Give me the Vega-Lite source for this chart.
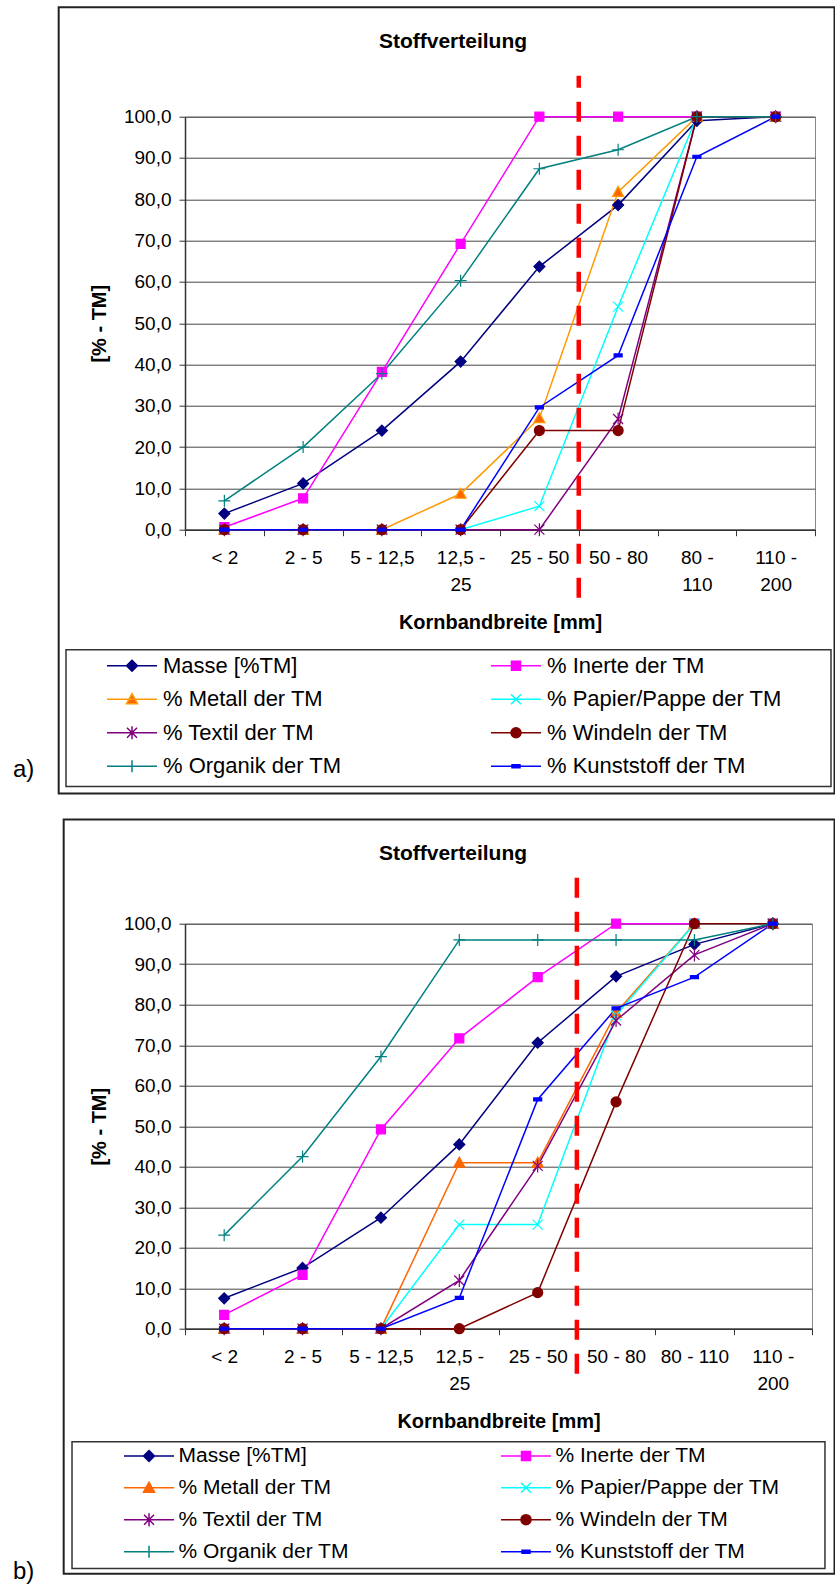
{
  "$schema": "https://vega.github.io/schema/vega-lite/v6.json",
  "background": "white",
  "padding": {"left": 12, "top": 5.7, "right": 0, "bottom": 0},
  "config": {
    "font": "Liberation Sans",
    "view": {"stroke": "#888", "strokeWidth": 1},
    "axis": {"labelFont": "Liberation Sans", "titleFont": "Liberation Sans", "labelColor": "black", "titleColor": "black", "labelFontSize": 19, "titleFontSize": 20, "titleFontWeight": "bold", "domainColor": "#333", "domainWidth": 1.5, "tickColor": "#333", "tickSize": 6, "gridColor": "#444", "gridWidth": 1},
    "axisX": {"grid": false},
    "title": {"font": "Liberation Sans", "fontSize": 21, "fontWeight": "bold", "color": "black"}
  },
  "datasets": {
    "a": [
      {"Kornband": "< 2", "Stoff": "Masse [%TM]", "Anteil": 3.9},
      {"Kornband": "2 - 5", "Stoff": "Masse [%TM]", "Anteil": 11.2},
      {"Kornband": "5 - 12,5", "Stoff": "Masse [%TM]", "Anteil": 24.0},
      {"Kornband": "12,5 - 25", "Stoff": "Masse [%TM]", "Anteil": 40.7},
      {"Kornband": "25 - 50", "Stoff": "Masse [%TM]", "Anteil": 63.7},
      {"Kornband": "50 - 80", "Stoff": "Masse [%TM]", "Anteil": 78.6},
      {"Kornband": "80 - 110", "Stoff": "Masse [%TM]", "Anteil": 99.0},
      {"Kornband": "110 - 200", "Stoff": "Masse [%TM]", "Anteil": 100},
      {"Kornband": "< 2", "Stoff": "% Inerte der TM", "Anteil": 0.6},
      {"Kornband": "2 - 5", "Stoff": "% Inerte der TM", "Anteil": 7.6},
      {"Kornband": "5 - 12,5", "Stoff": "% Inerte der TM", "Anteil": 38.2},
      {"Kornband": "12,5 - 25", "Stoff": "% Inerte der TM", "Anteil": 69.2},
      {"Kornband": "25 - 50", "Stoff": "% Inerte der TM", "Anteil": 100},
      {"Kornband": "50 - 80", "Stoff": "% Inerte der TM", "Anteil": 100},
      {"Kornband": "80 - 110", "Stoff": "% Inerte der TM", "Anteil": 100},
      {"Kornband": "110 - 200", "Stoff": "% Inerte der TM", "Anteil": 100},
      {"Kornband": "< 2", "Stoff": "% Metall der TM", "Anteil": 0},
      {"Kornband": "2 - 5", "Stoff": "% Metall der TM", "Anteil": 0},
      {"Kornband": "5 - 12,5", "Stoff": "% Metall der TM", "Anteil": 0},
      {"Kornband": "12,5 - 25", "Stoff": "% Metall der TM", "Anteil": 8.7},
      {"Kornband": "25 - 50", "Stoff": "% Metall der TM", "Anteil": 27.0},
      {"Kornband": "50 - 80", "Stoff": "% Metall der TM", "Anteil": 81.8},
      {"Kornband": "80 - 110", "Stoff": "% Metall der TM", "Anteil": 100},
      {"Kornband": "110 - 200", "Stoff": "% Metall der TM", "Anteil": 100},
      {"Kornband": "< 2", "Stoff": "% Papier/Pappe der TM", "Anteil": 0},
      {"Kornband": "2 - 5", "Stoff": "% Papier/Pappe der TM", "Anteil": 0},
      {"Kornband": "5 - 12,5", "Stoff": "% Papier/Pappe der TM", "Anteil": 0},
      {"Kornband": "12,5 - 25", "Stoff": "% Papier/Pappe der TM", "Anteil": 0},
      {"Kornband": "25 - 50", "Stoff": "% Papier/Pappe der TM", "Anteil": 5.7},
      {"Kornband": "50 - 80", "Stoff": "% Papier/Pappe der TM", "Anteil": 54.0},
      {"Kornband": "80 - 110", "Stoff": "% Papier/Pappe der TM", "Anteil": 100},
      {"Kornband": "110 - 200", "Stoff": "% Papier/Pappe der TM", "Anteil": 100},
      {"Kornband": "< 2", "Stoff": "% Textil der TM", "Anteil": 0},
      {"Kornband": "2 - 5", "Stoff": "% Textil der TM", "Anteil": 0},
      {"Kornband": "5 - 12,5", "Stoff": "% Textil der TM", "Anteil": 0},
      {"Kornband": "12,5 - 25", "Stoff": "% Textil der TM", "Anteil": 0},
      {"Kornband": "25 - 50", "Stoff": "% Textil der TM", "Anteil": 0},
      {"Kornband": "50 - 80", "Stoff": "% Textil der TM", "Anteil": 26.8},
      {"Kornband": "80 - 110", "Stoff": "% Textil der TM", "Anteil": 100},
      {"Kornband": "110 - 200", "Stoff": "% Textil der TM", "Anteil": 100},
      {"Kornband": "< 2", "Stoff": "% Windeln der TM", "Anteil": 0},
      {"Kornband": "2 - 5", "Stoff": "% Windeln der TM", "Anteil": 0},
      {"Kornband": "5 - 12,5", "Stoff": "% Windeln der TM", "Anteil": 0},
      {"Kornband": "12,5 - 25", "Stoff": "% Windeln der TM", "Anteil": 0},
      {"Kornband": "25 - 50", "Stoff": "% Windeln der TM", "Anteil": 24.0},
      {"Kornband": "50 - 80", "Stoff": "% Windeln der TM", "Anteil": 24.0},
      {"Kornband": "80 - 110", "Stoff": "% Windeln der TM", "Anteil": 100},
      {"Kornband": "110 - 200", "Stoff": "% Windeln der TM", "Anteil": 100},
      {"Kornband": "< 2", "Stoff": "% Organik der TM", "Anteil": 7.0},
      {"Kornband": "2 - 5", "Stoff": "% Organik der TM", "Anteil": 20.0},
      {"Kornband": "5 - 12,5", "Stoff": "% Organik der TM", "Anteil": 37.8},
      {"Kornband": "12,5 - 25", "Stoff": "% Organik der TM", "Anteil": 60.3},
      {"Kornband": "25 - 50", "Stoff": "% Organik der TM", "Anteil": 87.4},
      {"Kornband": "50 - 80", "Stoff": "% Organik der TM", "Anteil": 92.0},
      {"Kornband": "80 - 110", "Stoff": "% Organik der TM", "Anteil": 100},
      {"Kornband": "110 - 200", "Stoff": "% Organik der TM", "Anteil": 100},
      {"Kornband": "< 2", "Stoff": "% Kunststoff der TM", "Anteil": 0},
      {"Kornband": "2 - 5", "Stoff": "% Kunststoff der TM", "Anteil": 0},
      {"Kornband": "5 - 12,5", "Stoff": "% Kunststoff der TM", "Anteil": 0},
      {"Kornband": "12,5 - 25", "Stoff": "% Kunststoff der TM", "Anteil": 0},
      {"Kornband": "25 - 50", "Stoff": "% Kunststoff der TM", "Anteil": 29.6},
      {"Kornband": "50 - 80", "Stoff": "% Kunststoff der TM", "Anteil": 42.2},
      {"Kornband": "80 - 110", "Stoff": "% Kunststoff der TM", "Anteil": 90.3},
      {"Kornband": "110 - 200", "Stoff": "% Kunststoff der TM", "Anteil": 100}
    ],
    "b": [
      {"Kornband": "< 2", "Stoff": "Masse [%TM]", "Anteil": 7.5},
      {"Kornband": "2 - 5", "Stoff": "Masse [%TM]", "Anteil": 15.0},
      {"Kornband": "5 - 12,5", "Stoff": "Masse [%TM]", "Anteil": 27.4},
      {"Kornband": "12,5 - 25", "Stoff": "Masse [%TM]", "Anteil": 45.5},
      {"Kornband": "25 - 50", "Stoff": "Masse [%TM]", "Anteil": 70.6},
      {"Kornband": "50 - 80", "Stoff": "Masse [%TM]", "Anteil": 87.0},
      {"Kornband": "80 - 110", "Stoff": "Masse [%TM]", "Anteil": 94.9},
      {"Kornband": "110 - 200", "Stoff": "Masse [%TM]", "Anteil": 100},
      {"Kornband": "< 2", "Stoff": "% Inerte der TM", "Anteil": 3.4},
      {"Kornband": "2 - 5", "Stoff": "% Inerte der TM", "Anteil": 13.3},
      {"Kornband": "5 - 12,5", "Stoff": "% Inerte der TM", "Anteil": 49.2},
      {"Kornband": "12,5 - 25", "Stoff": "% Inerte der TM", "Anteil": 71.7},
      {"Kornband": "25 - 50", "Stoff": "% Inerte der TM", "Anteil": 86.8},
      {"Kornband": "50 - 80", "Stoff": "% Inerte der TM", "Anteil": 100},
      {"Kornband": "80 - 110", "Stoff": "% Inerte der TM", "Anteil": 100},
      {"Kornband": "110 - 200", "Stoff": "% Inerte der TM", "Anteil": 100},
      {"Kornband": "< 2", "Stoff": "% Metall der TM", "Anteil": 0},
      {"Kornband": "2 - 5", "Stoff": "% Metall der TM", "Anteil": 0},
      {"Kornband": "5 - 12,5", "Stoff": "% Metall der TM", "Anteil": 0},
      {"Kornband": "12,5 - 25", "Stoff": "% Metall der TM", "Anteil": 41.0},
      {"Kornband": "25 - 50", "Stoff": "% Metall der TM", "Anteil": 41.0},
      {"Kornband": "50 - 80", "Stoff": "% Metall der TM", "Anteil": 78.0},
      {"Kornband": "80 - 110", "Stoff": "% Metall der TM", "Anteil": 100},
      {"Kornband": "110 - 200", "Stoff": "% Metall der TM", "Anteil": 100},
      {"Kornband": "< 2", "Stoff": "% Papier/Pappe der TM", "Anteil": 0},
      {"Kornband": "2 - 5", "Stoff": "% Papier/Pappe der TM", "Anteil": 0},
      {"Kornband": "5 - 12,5", "Stoff": "% Papier/Pappe der TM", "Anteil": 0},
      {"Kornband": "12,5 - 25", "Stoff": "% Papier/Pappe der TM", "Anteil": 25.7},
      {"Kornband": "25 - 50", "Stoff": "% Papier/Pappe der TM", "Anteil": 25.7},
      {"Kornband": "50 - 80", "Stoff": "% Papier/Pappe der TM", "Anteil": 77.4},
      {"Kornband": "80 - 110", "Stoff": "% Papier/Pappe der TM", "Anteil": 100},
      {"Kornband": "110 - 200", "Stoff": "% Papier/Pappe der TM", "Anteil": 100},
      {"Kornband": "< 2", "Stoff": "% Textil der TM", "Anteil": 0},
      {"Kornband": "2 - 5", "Stoff": "% Textil der TM", "Anteil": 0},
      {"Kornband": "5 - 12,5", "Stoff": "% Textil der TM", "Anteil": 0},
      {"Kornband": "12,5 - 25", "Stoff": "% Textil der TM", "Anteil": 11.9},
      {"Kornband": "25 - 50", "Stoff": "% Textil der TM", "Anteil": 40.2},
      {"Kornband": "50 - 80", "Stoff": "% Textil der TM", "Anteil": 76.1},
      {"Kornband": "80 - 110", "Stoff": "% Textil der TM", "Anteil": 92.3},
      {"Kornband": "110 - 200", "Stoff": "% Textil der TM", "Anteil": 100},
      {"Kornband": "< 2", "Stoff": "% Windeln der TM", "Anteil": 0},
      {"Kornband": "2 - 5", "Stoff": "% Windeln der TM", "Anteil": 0},
      {"Kornband": "5 - 12,5", "Stoff": "% Windeln der TM", "Anteil": 0},
      {"Kornband": "12,5 - 25", "Stoff": "% Windeln der TM", "Anteil": 0},
      {"Kornband": "25 - 50", "Stoff": "% Windeln der TM", "Anteil": 8.9},
      {"Kornband": "50 - 80", "Stoff": "% Windeln der TM", "Anteil": 56.0},
      {"Kornband": "80 - 110", "Stoff": "% Windeln der TM", "Anteil": 100},
      {"Kornband": "110 - 200", "Stoff": "% Windeln der TM", "Anteil": 100},
      {"Kornband": "< 2", "Stoff": "% Organik der TM", "Anteil": 23.1},
      {"Kornband": "2 - 5", "Stoff": "% Organik der TM", "Anteil": 42.5},
      {"Kornband": "5 - 12,5", "Stoff": "% Organik der TM", "Anteil": 67.2},
      {"Kornband": "12,5 - 25", "Stoff": "% Organik der TM", "Anteil": 96.0},
      {"Kornband": "25 - 50", "Stoff": "% Organik der TM", "Anteil": 96.0},
      {"Kornband": "50 - 80", "Stoff": "% Organik der TM", "Anteil": 96.0},
      {"Kornband": "80 - 110", "Stoff": "% Organik der TM", "Anteil": 96.0},
      {"Kornband": "110 - 200", "Stoff": "% Organik der TM", "Anteil": 100},
      {"Kornband": "< 2", "Stoff": "% Kunststoff der TM", "Anteil": 0},
      {"Kornband": "2 - 5", "Stoff": "% Kunststoff der TM", "Anteil": 0},
      {"Kornband": "5 - 12,5", "Stoff": "% Kunststoff der TM", "Anteil": 0},
      {"Kornband": "12,5 - 25", "Stoff": "% Kunststoff der TM", "Anteil": 7.6},
      {"Kornband": "25 - 50", "Stoff": "% Kunststoff der TM", "Anteil": 56.6},
      {"Kornband": "50 - 80", "Stoff": "% Kunststoff der TM", "Anteil": 79.1},
      {"Kornband": "80 - 110", "Stoff": "% Kunststoff der TM", "Anteil": 86.8},
      {"Kornband": "110 - 200", "Stoff": "% Kunststoff der TM", "Anteil": 100}
    ]
  },
  "bounds": "flush",
  "spacing": 394,
  "resolve": {
    "scale": {"stroke": "independent", "fill": "independent", "shape": "independent"},
    "legend": {"stroke": "independent", "fill": "independent", "shape": "independent"}
  },
  "vconcat": [
    {
      "width": 630,
      "height": 413,
      "title": {"text": "Stoffverteilung", "anchor": "middle", "frame": "group", "dx": -47, "offset": -63, "baseline": "alphabetic"},
      "resolve": {"scale": {"x": "independent"}, "axis": {"x": "independent"}},
      "layer": [
        {
          "data": {"values": [{"Rahmen": "Diagramm"}]},
          "mark": {"type": "rect", "fill": null, "stroke": "#222", "strokeWidth": 2},
          "encoding": {
            "x": {"datum": -0.2005, "type": "quantitative", "scale": {"domain": [0, 1]}, "axis": null},
            "x2": {"datum": 1.031},
            "y": {"datum": 126.5, "type": "quantitative", "scale": {"domain": [0, 100], "nice": false}},
            "y2": {"datum": -63.9}
          }
        },
        {
          "data": {"values": [{"Rahmen": "Legende"}]},
          "mark": {"type": "rect", "fill": null, "stroke": "#333", "strokeWidth": 1.5},
          "encoding": {
            "x": {"datum": -0.1889, "type": "quantitative", "scale": {"domain": [0, 1]}, "axis": null},
            "x2": {"datum": 1.0254},
            "y": {"datum": -29.06, "type": "quantitative", "scale": {"domain": [0, 100], "nice": false}},
            "y2": {"datum": -62.2}
          }
        },
        {
          "data": {"values": [{"Marke": "a)"}]},
          "mark": {"type": "text", "align": "left", "baseline": "alphabetic", "fontSize": 24, "font": "Liberation Sans", "color": "black"},
          "encoding": {
            "x": {"datum": -0.273, "type": "quantitative", "scale": {"domain": [0, 1]}, "axis": null},
            "y": {"datum": -59.8, "type": "quantitative", "scale": {"domain": [0, 100], "nice": false}},
            "text": {"field": "Marke"}
          }
        },
        {
          "data": {"name": "a"},
          "resolve": {"scale": {"fill": "independent", "stroke": "independent", "shape": "independent"}},
          "layer": [
            {
              "mark": {"type": "line", "strokeWidth": 1.5},
              "encoding": {
                "x": {"field": "Kornband", "type": "ordinal", "sort": null,
                  "scale": {"type": "band", "domain": ["< 2", "2 - 5", "5 - 12,5", "12,5 - 25", "25 - 50", "50 - 80", "80 - 110", "110 - 200"], "paddingInner": 0, "paddingOuter": 0},
                  "axis": {"title": "Kornbandbreite [mm]", "tickBand": "extent", "labelAngle": 0, "labelPadding": 13, "labelLineHeight": 27, "titlePadding": 18, "labelOverlap": false, "labelLimit": 0,
                    "labelExpr": "datum.label == '12,5 - 25' ? ['12,5 -', '25'] : datum.label == '80 - 110' ? ['80 -', '110'] : datum.label == '110 - 200' ? ['110 -', '200'] : datum.label"}},
                "y": {"field": "Anteil", "type": "quantitative", "scale": {"domain": [0, 100], "nice": false},
                  "axis": {"title": "[% - TM]", "values": [0, 10, 20, 30, 40, 50, 60, 70, 80, 90, 100], "labelExpr": "replace(format(datum.value, '.1f'), '.', ',')", "grid": true, "labelPadding": 8, "titlePadding": 14}},
                "stroke": {"field": "Stoff", "type": "nominal", "legend": null,
                  "scale": {"domain": ["Masse [%TM]", "% Inerte der TM", "% Metall der TM", "% Papier/Pappe der TM", "% Textil der TM", "% Windeln der TM", "% Organik der TM", "% Kunststoff der TM"],
                    "range": ["#000080", "#FF00FF", "#FF9900", "#00FFFF", "#800080", "#800000", "#008080", "#0000FF"]}},
                "order": {"value": null}
              }
            },
            {
              "mark": {"type": "point", "filled": true, "opacity": 1, "size": 100, "strokeWidth": 1.2},
              "encoding": {
                "x": {"field": "Kornband", "type": "ordinal", "sort": null},
                "y": {"field": "Anteil", "type": "quantitative"},
                "stroke": {"field": "Stoff", "type": "nominal", "legend": null,
                  "scale": {"domain": ["Masse [%TM]", "% Inerte der TM", "% Metall der TM", "% Papier/Pappe der TM", "% Textil der TM", "% Windeln der TM", "% Organik der TM", "% Kunststoff der TM"],
                    "range": ["#000080", "#FF00FF", "#FF9900", "#00FFFF", "#800080", "#800000", "#008080", "#0000FF"]}},
                "fill": {"field": "Stoff", "type": "nominal", "legend": null,
                  "scale": {"domain": ["Masse [%TM]", "% Inerte der TM", "% Metall der TM", "% Papier/Pappe der TM", "% Textil der TM", "% Windeln der TM", "% Organik der TM", "% Kunststoff der TM"],
                    "range": ["#000080", "#FF00FF", "#FF6600", "#00FFFF", "#800080", "#800000", "#008080", "#0000FF"]}},
                "shape": {"field": "Stoff", "type": "nominal", "legend": null,
                  "scale": {"domain": ["Masse [%TM]", "% Inerte der TM", "% Metall der TM", "% Papier/Pappe der TM", "% Textil der TM", "% Windeln der TM", "% Organik der TM", "% Kunststoff der TM"],
                    "range": ["M0,-1.1L1.1,0L0,1.1L-1.1,0Z", "M-0.9,-0.9H0.9V0.9H-0.9Z", "M0,-1.1L1.1,0.9L-1.1,0.9Z", "M-1,-1L1,1M-1,1L1,-1", "M-1,-1L1,1M-1,1L1,-1M0,-1.3V1.3", "circle", "M-1.2,0H1.2M0,-1.2V1.2", "M-0.8,-0.3H0.8V0.3H-0.8Z"]}}
              }
            },
            {
              "transform": [{"filter": "false"}],
              "mark": {"type": "point", "filled": true, "opacity": 1, "size": 100, "strokeWidth": 1.2},
              "encoding": {
                "stroke": {"field": "Stoff", "type": "nominal",
                  "scale": {"domain": ["Masse [%TM]", "% Inerte der TM", "% Metall der TM", "% Papier/Pappe der TM", "% Textil der TM", "% Windeln der TM", "% Organik der TM", "% Kunststoff der TM"],
                    "range": ["#000080", "#FF00FF", "#FF9900", "#00FFFF", "#800080", "#800000", "#008080", "#0000FF"]}},
                "fill": {"field": "Stoff", "type": "nominal",
                  "scale": {"domain": ["Masse [%TM]", "% Inerte der TM", "% Metall der TM", "% Papier/Pappe der TM", "% Textil der TM", "% Windeln der TM", "% Organik der TM", "% Kunststoff der TM"],
                    "range": ["#000080", "#FF00FF", "#FF6600", "#00FFFF", "#800080", "#800000", "#008080", "#0000FF"]},
                  "legend": {"title": null, "orient": "none", "legendX": -89, "legendY": 538, "direction": "horizontal", "columns": 2, "columnPadding": 138, "rowPadding": 11.5, "padding": 0,
                    "labelFont": "Liberation Sans", "labelFontSize": 22, "labelColor": "black", "labelLimit": 0, "symbolSize": 100, "symbolOffset": 25, "labelOffset": 20, "symbolStrokeWidth": 1.5, "symbolOpacity": 1}},
                "shape": {"field": "Stoff", "type": "nominal",
                  "scale": {"domain": ["Masse [%TM]", "% Inerte der TM", "% Metall der TM", "% Papier/Pappe der TM", "% Textil der TM", "% Windeln der TM", "% Organik der TM", "% Kunststoff der TM"],
                    "range": ["M-5,0H5M0,-1.1L1.1,0L0,1.1L-1.1,0Z", "M-5,0H5M-0.9,-0.9H0.9V0.9H-0.9Z", "M-5,0H5M0,-1.1L1.1,0.9L-1.1,0.9Z", "M-5,0H5M-1,-1L1,1M-1,1L1,-1", "M-5,0H5M-1,-1L1,1M-1,1L1,-1M0,-1.3V1.3", "M-5,0H5M1,0A1,1,0,1,1,-1,0A1,1,0,1,1,1,0Z", "M-5,0H5M0,-1.2V1.2", "M-5,0H5M-0.8,-0.3H0.8V0.3H-0.8Z"]}}
              }
            },
            {
              "data": {"values": [{"Grenze": "50 mm"}]},
              "mark": {"type": "rule", "color": "#FF0000", "strokeWidth": 4.5, "strokeDash": [20, 14]},
              "encoding": {
                "x": {"datum": "50 - 80", "type": "ordinal", "bandPosition": 0},
                "y": {"datum": -16.5, "type": "quantitative"},
                "y2": {"datum": 109.9}
              }
            }
          ]
        }
      ]
    },
    {
      "width": 627,
      "height": 405,
      "title": {"text": "Stoffverteilung", "anchor": "middle", "frame": "group", "dx": -45.5, "offset": -62, "baseline": "alphabetic"},
      "resolve": {"scale": {"x": "independent"}, "axis": {"x": "independent"}},
      "layer": [
        {
          "data": {"values": [{"Rahmen": "Diagramm"}]},
          "mark": {"type": "rect", "fill": null, "stroke": "#222", "strokeWidth": 2},
          "encoding": {
            "x": {"datum": -0.1935, "type": "quantitative", "scale": {"domain": [0, 1]}, "axis": null},
            "x2": {"datum": 1.0359},
            "y": {"datum": 125.7, "type": "quantitative", "scale": {"domain": [0, 100], "nice": false}},
            "y2": {"datum": -60.5}
          }
        },
        {
          "data": {"values": [{"Rahmen": "Legende"}]},
          "mark": {"type": "rect", "fill": null, "stroke": "#333", "strokeWidth": 1.5},
          "encoding": {
            "x": {"datum": -0.1802, "type": "quantitative", "scale": {"domain": [0, 1]}, "axis": null},
            "x2": {"datum": 1.0207},
            "y": {"datum": -27.9, "type": "quantitative", "scale": {"domain": [0, 100], "nice": false}},
            "y2": {"datum": -59.2}
          }
        },
        {
          "data": {"values": [{"Marke": "b)"}]},
          "mark": {"type": "text", "align": "left", "baseline": "alphabetic", "fontSize": 24, "font": "Liberation Sans", "color": "black"},
          "encoding": {
            "x": {"datum": -0.2743, "type": "quantitative", "scale": {"domain": [0, 1]}, "axis": null},
            "y": {"datum": -61.7, "type": "quantitative", "scale": {"domain": [0, 100], "nice": false}},
            "text": {"field": "Marke"}
          }
        },
        {
          "data": {"name": "b"},
          "resolve": {"scale": {"fill": "independent", "stroke": "independent", "shape": "independent"}},
          "layer": [
            {
              "mark": {"type": "line", "strokeWidth": 1.5},
              "encoding": {
                "x": {"field": "Kornband", "type": "ordinal", "sort": null,
                  "scale": {"type": "band", "domain": ["< 2", "2 - 5", "5 - 12,5", "12,5 - 25", "25 - 50", "50 - 80", "80 - 110", "110 - 200"], "paddingInner": 0, "paddingOuter": 0},
                  "axis": {"title": "Kornbandbreite [mm]", "tickBand": "extent", "labelAngle": 0, "labelPadding": 13, "labelLineHeight": 27, "titlePadding": 18, "labelOverlap": false, "labelLimit": 0,
                    "labelExpr": "datum.label == '12,5 - 25' ? ['12,5 -', '25'] : datum.label == '110 - 200' ? ['110 -', '200'] : datum.label"}},
                "y": {"field": "Anteil", "type": "quantitative", "scale": {"domain": [0, 100], "nice": false},
                  "axis": {"title": "[% - TM]", "values": [0, 10, 20, 30, 40, 50, 60, 70, 80, 90, 100], "labelExpr": "replace(format(datum.value, '.1f'), '.', ',')", "grid": true, "labelPadding": 8, "titlePadding": 14}},
                "stroke": {"field": "Stoff", "type": "nominal", "legend": null,
                  "scale": {"domain": ["Masse [%TM]", "% Inerte der TM", "% Metall der TM", "% Papier/Pappe der TM", "% Textil der TM", "% Windeln der TM", "% Organik der TM", "% Kunststoff der TM"],
                    "range": ["#000080", "#FF00FF", "#FF6600", "#00FFFF", "#800080", "#800000", "#008080", "#0000FF"]}},
                "order": {"value": null}
              }
            },
            {
              "mark": {"type": "point", "filled": true, "opacity": 1, "size": 100, "strokeWidth": 1.2},
              "encoding": {
                "x": {"field": "Kornband", "type": "ordinal", "sort": null},
                "y": {"field": "Anteil", "type": "quantitative"},
                "stroke": {"field": "Stoff", "type": "nominal", "legend": null,
                  "scale": {"domain": ["Masse [%TM]", "% Inerte der TM", "% Metall der TM", "% Papier/Pappe der TM", "% Textil der TM", "% Windeln der TM", "% Organik der TM", "% Kunststoff der TM"],
                    "range": ["#000080", "#FF00FF", "#FF6600", "#00FFFF", "#800080", "#800000", "#008080", "#0000FF"]}},
                "fill": {"field": "Stoff", "type": "nominal", "legend": null,
                  "scale": {"domain": ["Masse [%TM]", "% Inerte der TM", "% Metall der TM", "% Papier/Pappe der TM", "% Textil der TM", "% Windeln der TM", "% Organik der TM", "% Kunststoff der TM"],
                    "range": ["#000080", "#FF00FF", "#FF6600", "#00FFFF", "#800080", "#800000", "#008080", "#0000FF"]}},
                "shape": {"field": "Stoff", "type": "nominal", "legend": null,
                  "scale": {"domain": ["Masse [%TM]", "% Inerte der TM", "% Metall der TM", "% Papier/Pappe der TM", "% Textil der TM", "% Windeln der TM", "% Organik der TM", "% Kunststoff der TM"],
                    "range": ["M0,-1.1L1.1,0L0,1.1L-1.1,0Z", "M-0.9,-0.9H0.9V0.9H-0.9Z", "M0,-1.1L1.1,0.9L-1.1,0.9Z", "M-1,-1L1,1M-1,1L1,-1", "M-1,-1L1,1M-1,1L1,-1M0,-1.3V1.3", "circle", "M-1.2,0H1.2M0,-1.2V1.2", "M-0.8,-0.3H0.8V0.3H-0.8Z"]}}
              }
            },
            {
              "transform": [{"filter": "false"}],
              "mark": {"type": "point", "filled": true, "opacity": 1, "size": 100, "strokeWidth": 1.2},
              "encoding": {
                "stroke": {"field": "Stoff", "type": "nominal",
                  "scale": {"domain": ["Masse [%TM]", "% Inerte der TM", "% Metall der TM", "% Papier/Pappe der TM", "% Textil der TM", "% Windeln der TM", "% Organik der TM", "% Kunststoff der TM"],
                    "range": ["#000080", "#FF00FF", "#FF6600", "#00FFFF", "#800080", "#800000", "#008080", "#0000FF"]}},
                "fill": {"field": "Stoff", "type": "nominal",
                  "scale": {"domain": ["Masse [%TM]", "% Inerte der TM", "% Metall der TM", "% Papier/Pappe der TM", "% Textil der TM", "% Windeln der TM", "% Organik der TM", "% Kunststoff der TM"],
                    "range": ["#000080", "#FF00FF", "#FF6600", "#00FFFF", "#800080", "#800000", "#008080", "#0000FF"]},
                  "legend": {"title": null, "orient": "none", "legendX": -71.5, "legendY": 521.5, "direction": "horizontal", "columns": 2, "columnPadding": 141, "rowPadding": 10, "padding": 0,
                    "labelFont": "Liberation Sans", "labelFontSize": 21, "labelColor": "black", "labelLimit": 0, "symbolSize": 100, "symbolOffset": 25, "labelOffset": 19, "symbolStrokeWidth": 1.5, "symbolOpacity": 1}},
                "shape": {"field": "Stoff", "type": "nominal",
                  "scale": {"domain": ["Masse [%TM]", "% Inerte der TM", "% Metall der TM", "% Papier/Pappe der TM", "% Textil der TM", "% Windeln der TM", "% Organik der TM", "% Kunststoff der TM"],
                    "range": ["M-5,0H5M0,-1.1L1.1,0L0,1.1L-1.1,0Z", "M-5,0H5M-0.9,-0.9H0.9V0.9H-0.9Z", "M-5,0H5M0,-1.1L1.1,0.9L-1.1,0.9Z", "M-5,0H5M-1,-1L1,1M-1,1L1,-1", "M-5,0H5M-1,-1L1,1M-1,1L1,-1M0,-1.3V1.3", "M-5,0H5M1,0A1,1,0,1,1,-1,0A1,1,0,1,1,1,0Z", "M-5,0H5M0,-1.2V1.2", "M-5,0H5M-0.8,-0.3H0.8V0.3H-0.8Z"]}}
              }
            },
            {
              "data": {"values": [{"Grenze": "50 mm"}]},
              "mark": {"type": "rule", "color": "#FF0000", "strokeWidth": 4.5, "strokeDash": [20, 14]},
              "encoding": {
                "x": {"datum": "50 - 80", "type": "ordinal", "bandPosition": 0},
                "y": {"datum": -11.1, "type": "quantitative"},
                "y2": {"datum": 113.8}
              }
            }
          ]
        }
      ]
    }
  ]
}
